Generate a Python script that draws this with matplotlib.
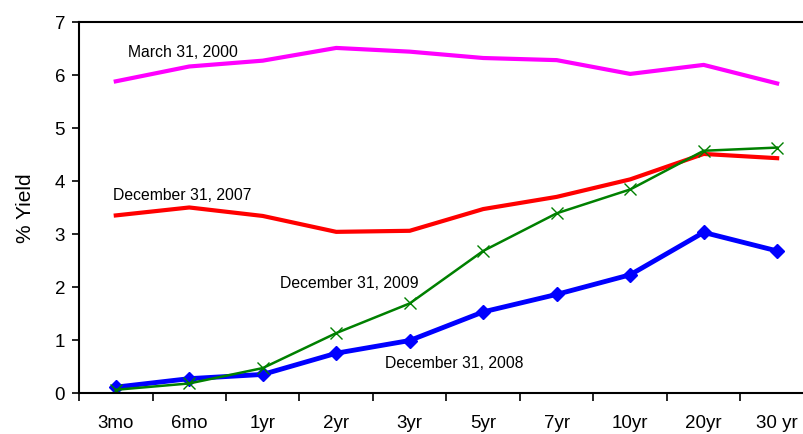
import matplotlib.pyplot as plt

plt.rcParams['font.family'] = ['Liberation Sans', 'DejaVu Sans']

maturities = ["3mo", "6mo", "1yr", "2yr", "3yr", "5yr", "7yr", "10yr", "20yr", "30 yr"]

mar_2000 = [5.88, 6.16, 6.27, 6.51, 6.44, 6.32, 6.28, 6.02, 6.19, 5.84]
dec_2007 = [3.35, 3.50, 3.34, 3.04, 3.06, 3.47, 3.70, 4.03, 4.51, 4.43]
dec_2008 = [0.11, 0.27, 0.35, 0.75, 0.99, 1.53, 1.86, 2.23, 3.03, 2.68]
dec_2009 = [0.06, 0.18, 0.47, 1.13, 1.69, 2.68, 3.39, 3.84, 4.57, 4.63]

fig = plt.figure(figsize=(8.04, 4.35), dpi=100)
# plot area runs a little past the right edge of the figure
ax = fig.add_axes([0.0983, 0.0943, 0.914, 0.8529])

x = range(len(maturities))
ax.plot(x, mar_2000, color="#FF00FF", lw=3)
ax.plot(x, dec_2007, color="#FF0000", lw=3)
ax.plot(x, dec_2008, color="#0000FF", lw=3.5, marker="D", markersize=7)
ax.plot(x, dec_2009, color="#008000", lw=1.8, marker="x", markersize=9, markeredgewidth=1)

ax.text(0.92, 6.45, "March 31, 2000", fontsize=11.3, ha="center", va="center")
ax.text(0.91, 3.75, "December 31, 2007", fontsize=11.3, ha="center", va="center")
ax.text(3.18, 2.09, "December 31, 2009", fontsize=11.3, ha="center", va="center")
ax.text(4.6, 0.57, "December 31, 2008", fontsize=11.3, ha="center", va="center")

ax.set_xlim(-0.5, len(maturities) - 0.5)
ax.set_ylim(0, 7)
ax.set_yticks(range(8))
ax.set_xticks(x)
ax.set_xticklabels(maturities, fontsize=13.5)
ax.tick_params(axis="x", length=0, pad=15)
ax.set_xticks([i - 0.5 for i in range(len(maturities) + 1)], minor=True)
ax.tick_params(axis="x", which="minor", length=6, width=1.2, direction="out")
ax.tick_params(axis="y", labelsize=13.5, length=5, width=1.2, direction="out", pad=5)
ax.set_ylabel("% Yield", fontsize=15, labelpad=14)

for s in ax.spines.values():
    s.set_linewidth(1.5)

fig.savefig("out.png", dpi=100)
